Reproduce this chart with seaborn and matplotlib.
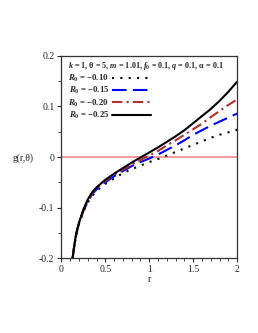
import numpy as np
import pandas as pd
import seaborn as sns
import matplotlib.pyplot as plt
from matplotlib.ticker import MultipleLocator

# values
r = [0.128, 0.14, 0.16, 0.18, 0.2, 0.25, 0.3, 0.35, 0.4, 0.5, 0.6, 0.7, 0.8,
     0.9, 1.0, 1.1, 1.2, 1.3, 1.4, 1.5, 1.6, 1.7, 1.8, 1.9, 2.0]
g_010 = [-0.200, -0.185, -0.163, -0.146, -0.133, -0.108, -0.090, -0.077, -0.067,
         -0.053, -0.042, -0.032, -0.024, -0.017, -0.010, -0.004, 0.003, 0.010,
         0.017, 0.024, 0.031, 0.038, 0.044, 0.049, 0.054]
g_015 = [-0.200, -0.184, -0.162, -0.145, -0.132, -0.107, -0.088, -0.074, -0.064,
         -0.050, -0.038, -0.028, -0.018, -0.010, -0.003, 0.005, 0.014, 0.023,
         0.033, 0.044, 0.053, 0.062, 0.070, 0.078, 0.086]
g_020 = [-0.200, -0.183, -0.161, -0.144, -0.131, -0.105, -0.086, -0.072, -0.062,
         -0.047, -0.035, -0.025, -0.015, -0.006, 0.003, 0.012, 0.023, 0.033,
         0.044, 0.055, 0.066, 0.079, 0.091, 0.103, 0.114]
g_025 = [-0.200, -0.183, -0.160, -0.143, -0.130, -0.104, -0.084, -0.070, -0.060,
         -0.045, -0.033, -0.022, -0.011, -0.001, 0.009, 0.019, 0.030, 0.041,
         0.053, 0.067, 0.081, 0.095, 0.111, 0.129, 0.149]

labels = ["−0.10", "−0.15", "−0.20", "−0.25"]
series = [g_010, g_015, g_020, g_025]
colors = ["black", "#0000ff", "#b03030", "black"]
styles = [(0, (1, 3)), (0, (7, 3)), (0, (5, 2, 1, 2)), "-"]

df = pd.concat([pd.DataFrame({"r": r, "g": s, "R0": lab})
                for s, lab in zip(series, labels)], ignore_index=True)

sns.set_theme(style="ticks")
plt.rcParams["font.family"] = ["Liberation Serif", "DejaVu Serif"]
plt.rcParams["mathtext.fontset"] = "custom"
plt.rcParams["mathtext.it"] = "Liberation Serif:italic:bold"
plt.rcParams["mathtext.rm"] = "Liberation Serif:bold"

fig = plt.figure(figsize=(2.58, 3.33), dpi=100)
ax = fig.add_axes([0.238, 0.225, 0.681, 0.607])

ax.axhline(0, color="#f59a9a", lw=1.4, zorder=1)

for lab, c, ls in zip(labels, colors, styles):
    sns.lineplot(data=df[df["R0"] == lab], x="r", y="g", ax=ax, color=c,
                 linestyle=ls, lw=1.5, label=r"$R_\mathrm{0}$ = " + lab)

ax.set_xlim(0, 2)
ax.set_ylim(-0.2, 0.2)
ax.set_xticks([0, 0.5, 1, 1.5, 2])
ax.set_xticklabels(["0", "0.5", "1", "1.5", "2"])
ax.set_yticks([-0.2, -0.1, 0, 0.1, 0.2])
ax.set_yticklabels(["-0.2", "-0.1", "0", "0.1", "0.2"])
ax.xaxis.set_minor_locator(MultipleLocator(0.1))
ax.yaxis.set_minor_locator(MultipleLocator(0.05))
ax.tick_params(axis="both", which="major", labelsize=7, length=3, width=0.8, pad=2)
ax.tick_params(axis="both", which="minor", length=2, width=0.6)
for sp in ax.spines.values():
    sp.set_linewidth(0.9)
    sp.set_color("#333333")

ax.set_xlabel("r", fontsize=7, labelpad=1)
ax.set_ylabel("g(r,θ)", fontsize=7, rotation=0)
ax.yaxis.set_label_coords(-0.22, 0.47)

leg = ax.legend(loc="upper left", bbox_to_anchor=(0.0, 1.015), frameon=False,
                markerfirst=False, fontsize=6.3, handlelength=4.4,
                handletextpad=0.4, labelspacing=0.12, borderpad=0.3,
                title=r"$k$ = 1, θ = 5, $m$ = 1.01, $f_\mathrm{0}$ = 0.1, $q$ = 0.1, α = 0.1",
                title_fontproperties={"weight": "bold", "size": 5.9})
leg._legend_box.align = "left"
for t in leg.get_texts():
    t.set_fontweight("bold")

fig.savefig("out.png", dpi=100)
